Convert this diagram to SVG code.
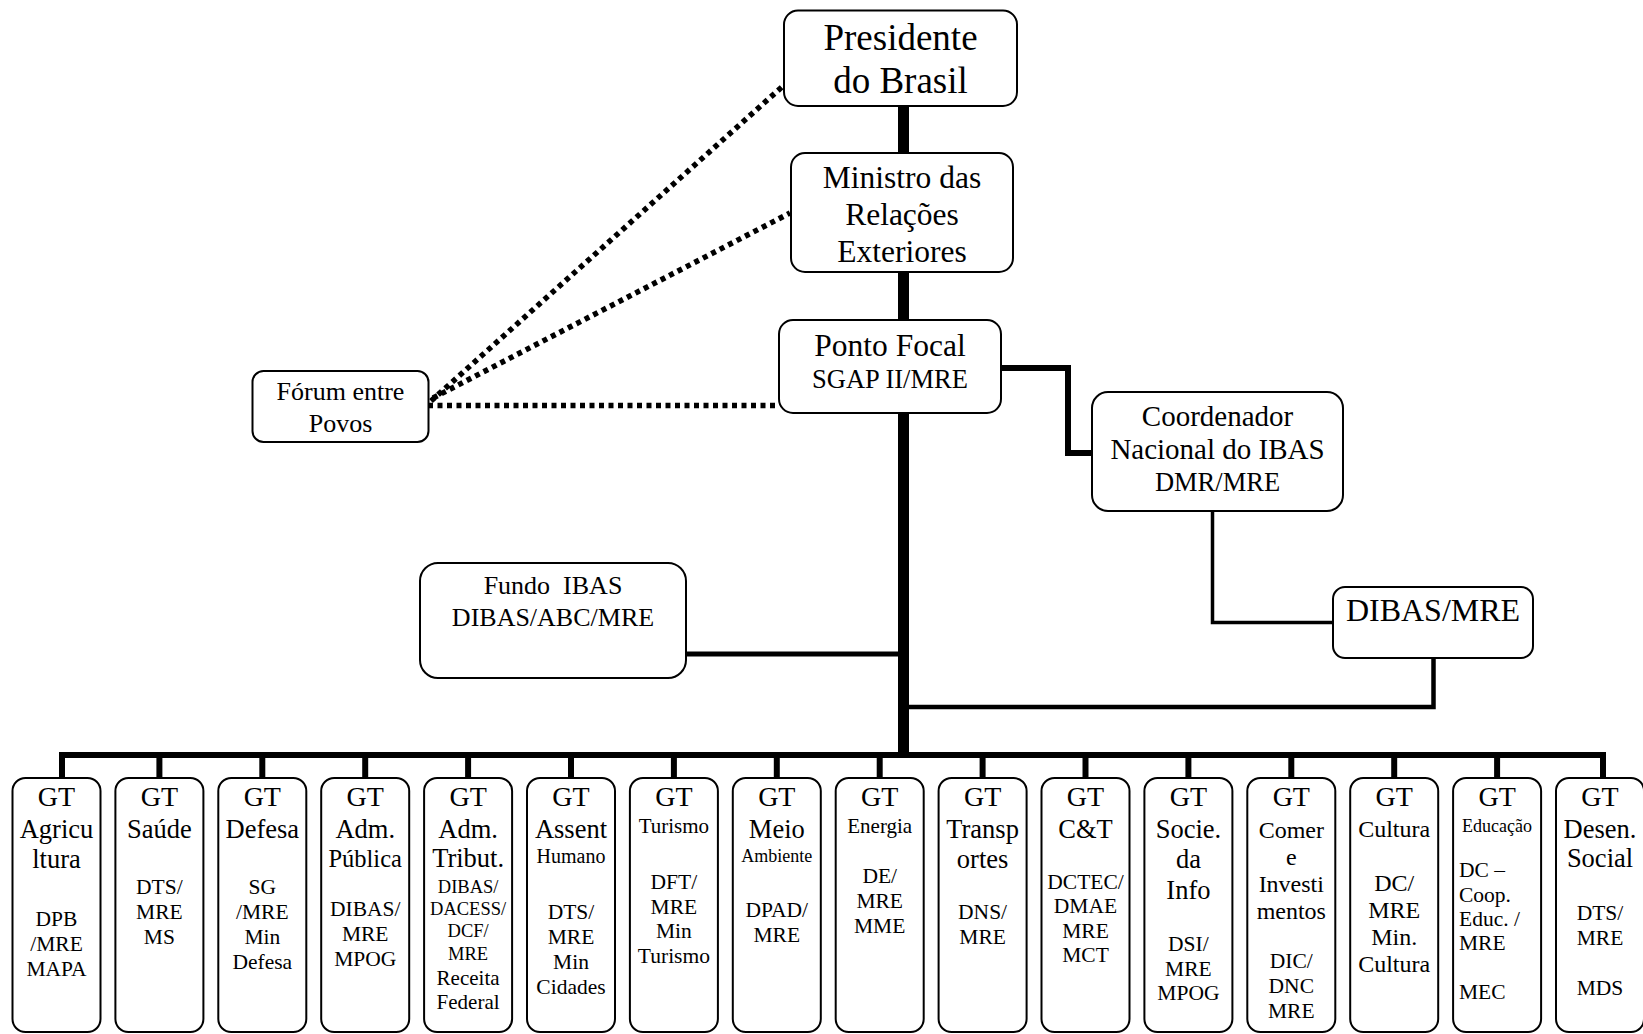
<svg xmlns="http://www.w3.org/2000/svg" width="1643" height="1034" viewBox="0 0 1643 1034">
<style>
text{font-family:"Liberation Serif","Times New Roman",serif;fill:#000;text-anchor:middle}
.box{fill:#fff;stroke:#000;stroke-width:2}
.gt{font-size:28px}
.nm{font-size:26.5px}
.sm{font-size:21.5px}
.thick{stroke:#000;stroke-width:11;fill:none}
.med{stroke:#000;stroke-width:6;fill:none}
.thin{stroke:#000;stroke-width:3.5;fill:none}
.dot{stroke:#000;stroke-width:5.5;fill:none;stroke-dasharray:5 4.5}
</style>
<rect width="1643" height="1034" fill="#fff"/>
<g id="connectors">
<line class="thick" x1="903.5" y1="106" x2="903.5" y2="153"/>
<line class="thick" x1="903.5" y1="272" x2="903.5" y2="320"/>
<line class="thick" x1="903.5" y1="413" x2="903.5" y2="758"/>
<line class="med" x1="59" y1="755" x2="1606" y2="755"/>
<g class="med">
<line x1="62" y1="755" x2="62" y2="779"/>
<line x1="159.4" y1="755" x2="159.4" y2="779"/>
<line x1="262.3" y1="755" x2="262.3" y2="779"/>
<line x1="365.2" y1="755" x2="365.2" y2="779"/>
<line x1="468.1" y1="755" x2="468.1" y2="779"/>
<line x1="571" y1="755" x2="571" y2="779"/>
<line x1="673.9" y1="755" x2="673.9" y2="779"/>
<line x1="776.8" y1="755" x2="776.8" y2="779"/>
<line x1="879.7" y1="755" x2="879.7" y2="779"/>
<line x1="982.6" y1="755" x2="982.6" y2="779"/>
<line x1="1085.5" y1="755" x2="1085.5" y2="779"/>
<line x1="1188.4" y1="755" x2="1188.4" y2="779"/>
<line x1="1291.3" y1="755" x2="1291.3" y2="779"/>
<line x1="1394.2" y1="755" x2="1394.2" y2="779"/>
<line x1="1497.1" y1="755" x2="1497.1" y2="779"/>
<line x1="1603" y1="755" x2="1603" y2="779"/>
</g>
<polyline class="med" points="1001,368 1068,368 1068,453 1092,453"/>
<polyline class="thin" points="1212.5,512 1212.5,622.5 1333,622.5"/>
<polyline style="stroke:#000;stroke-width:4.5;fill:none" points="1433.5,658 1433.5,707 903,707"/>
<line style="stroke:#000;stroke-width:5" x1="686" y1="654" x2="903" y2="654"/>
<line class="dot" x1="431" y1="401" x2="783" y2="86"/>
<line class="dot" x1="433" y1="398" x2="790" y2="213"/>
<line class="dot" x1="428" y1="405.5" x2="779" y2="405.5"/>
</g>
<g id="presidente">
<rect class="box" x="784" y="10.5" width="233" height="95.5" rx="14"/>
<text x="900.5" y="50" style="font-size:37px">Presidente</text>
<text x="900.5" y="93" style="font-size:37px">do Brasil</text>
</g>
<g id="ministro">
<rect class="box" x="791" y="153" width="222" height="119" rx="14"/>
<text x="902" y="188" style="font-size:31.5px">Ministro das</text>
<text x="902" y="225" style="font-size:31.5px">Relações</text>
<text x="902" y="262" style="font-size:31.5px">Exteriores</text>
</g>
<g id="ponto-focal">
<rect class="box" x="779" y="320" width="222" height="93" rx="14"/>
<text x="890" y="356" style="font-size:31.5px">Ponto Focal</text>
<text x="890" y="388" style="font-size:26.5px">SGAP II/MRE</text>
</g>
<g id="forum">
<rect class="box" x="252.5" y="371" width="176" height="71" rx="11"/>
<text x="340.5" y="400" style="font-size:26px">Fórum entre</text>
<text x="340.5" y="432" style="font-size:26px">Povos</text>
</g>
<g id="coordenador">
<rect class="box" x="1092" y="392" width="251" height="119" rx="16"/>
<text x="1217.5" y="426" style="font-size:29px">Coordenador</text>
<text x="1217.5" y="459" style="font-size:29px">Nacional do IBAS</text>
<text x="1217.5" y="491" style="font-size:26.5px">DMR/MRE</text>
</g>
<g id="dibas-mre">
<rect class="box" x="1333" y="587" width="200" height="71" rx="12"/>
<text x="1433" y="621" style="font-size:32px">DIBAS/MRE</text>
</g>
<g id="fundo-ibas">
<rect class="box" x="420" y="563" width="266" height="115" rx="18"/>
<text x="553" y="594" style="font-size:26px" xml:space="preserve">Fundo  IBAS</text>
<text x="553" y="626" style="font-size:26px">DIBAS/ABC/MRE</text>
</g>
<g id="gt-agricultura">
<rect class="box" x="12.5" y="778" width="88" height="254" rx="13"/>
<text class="gt" x="56.5" y="806">GT</text>
<text class="nm" x="56.5" y="838">Agricu</text>
<text class="nm" x="56.5" y="868">ltura</text>
<text class="sm" x="56.5" y="926">DPB</text>
<text class="sm" x="56.5" y="951">/MRE</text>
<text class="sm" x="56.5" y="976">MAPA</text>
</g>
<g id="gt-saude">
<rect class="box" x="115.4" y="778" width="88" height="254" rx="13"/>
<text class="gt" x="159.4" y="806">GT</text>
<text class="nm" x="159.4" y="838">Saúde</text>
<text class="sm" x="159.4" y="894">DTS/</text>
<text class="sm" x="159.4" y="919">MRE</text>
<text class="sm" x="159.4" y="944">MS</text>
</g>
<g id="gt-defesa">
<rect class="box" x="218.3" y="778" width="88" height="254" rx="13"/>
<text class="gt" x="262.3" y="806">GT</text>
<text class="nm" x="262.3" y="838">Defesa</text>
<text class="sm" x="262.3" y="894">SG</text>
<text class="sm" x="262.3" y="919">/MRE</text>
<text class="sm" x="262.3" y="944">Min</text>
<text class="sm" x="262.3" y="969">Defesa</text>
</g>
<g id="gt-adm-publica">
<rect class="box" x="321.2" y="778" width="88" height="254" rx="13"/>
<text class="gt" x="365.2" y="806">GT</text>
<text class="nm" x="365.2" y="838">Adm.</text>
<text x="365.2" y="867" style="font-size:24.5px">Pública</text>
<text class="sm" x="365.2" y="916">DIBAS/</text>
<text class="sm" x="365.2" y="941">MRE</text>
<text class="sm" x="365.2" y="966">MPOG</text>
</g>
<g id="gt-adm-tribut">
<rect class="box" x="424.1" y="778" width="88" height="254" rx="13"/>
<text class="gt" x="468.1" y="806">GT</text>
<text class="nm" x="468.1" y="838">Adm.</text>
<text class="nm" x="468.1" y="867">Tribut.</text>
<text x="468.1" y="893" style="font-size:18.5px">DIBAS/</text>
<text x="468.1" y="914.5" style="font-size:18.5px">DACESS/</text>
<text x="468.1" y="937" style="font-size:18.5px">DCF/</text>
<text x="468.1" y="960" style="font-size:18.5px">MRE</text>
<text x="468.1" y="985" style="font-size:21px">Receita</text>
<text x="468.1" y="1009" style="font-size:21px">Federal</text>
</g>
<g id="gt-assent-humano">
<rect class="box" x="527" y="778" width="88" height="254" rx="13"/>
<text class="gt" x="571" y="806">GT</text>
<text class="nm" x="571" y="838">Assent</text>
<text x="571" y="863" style="font-size:20px">Humano</text>
<text class="sm" x="571" y="919">DTS/</text>
<text class="sm" x="571" y="944">MRE</text>
<text class="sm" x="571" y="969">Min</text>
<text class="sm" x="571" y="994">Cidades</text>
</g>
<g id="gt-turismo">
<rect class="box" x="629.9" y="778" width="88" height="254" rx="13"/>
<text class="gt" x="673.9" y="806">GT</text>
<text x="673.9" y="833" style="font-size:21px">Turismo</text>
<text class="sm" x="673.9" y="889">DFT/</text>
<text class="sm" x="673.9" y="913.5">MRE</text>
<text class="sm" x="673.9" y="938">Min</text>
<text class="sm" x="673.9" y="963">Turismo</text>
</g>
<g id="gt-meio-ambiente">
<rect class="box" x="732.8" y="778" width="88" height="254" rx="13"/>
<text class="gt" x="776.8" y="806">GT</text>
<text class="nm" x="776.8" y="838">Meio</text>
<text x="776.8" y="862" style="font-size:18px">Ambiente</text>
<text class="sm" x="776.8" y="917">DPAD/</text>
<text class="sm" x="776.8" y="942">MRE</text>
</g>
<g id="gt-energia">
<rect class="box" x="835.7" y="778" width="88" height="254" rx="13"/>
<text class="gt" x="879.7" y="806">GT</text>
<text x="879.7" y="833" style="font-size:21px">Energia</text>
<text class="sm" x="879.7" y="883">DE/</text>
<text class="sm" x="879.7" y="908">MRE</text>
<text class="sm" x="879.7" y="933">MME</text>
</g>
<g id="gt-transportes">
<rect class="box" x="938.6" y="778" width="88" height="254" rx="13"/>
<text class="gt" x="982.6" y="806">GT</text>
<text class="nm" x="982.6" y="838">Transp</text>
<text class="nm" x="982.6" y="868">ortes</text>
<text class="sm" x="982.6" y="919">DNS/</text>
<text class="sm" x="982.6" y="944">MRE</text>
</g>
<g id="gt-ct">
<rect class="box" x="1041.5" y="778" width="88" height="254" rx="13"/>
<text class="gt" x="1085.5" y="806">GT</text>
<text class="nm" x="1085.5" y="838">C&amp;T</text>
<text class="sm" x="1085.5" y="889">DCTEC/</text>
<text class="sm" x="1085.5" y="913">DMAE</text>
<text class="sm" x="1085.5" y="937.5">MRE</text>
<text class="sm" x="1085.5" y="962">MCT</text>
</g>
<g id="gt-sociedade-info">
<rect class="box" x="1144.4" y="778" width="88" height="254" rx="13"/>
<text class="gt" x="1188.4" y="806">GT</text>
<text class="nm" x="1188.4" y="838">Socie.</text>
<text class="nm" x="1188.4" y="868">da</text>
<text class="nm" x="1188.4" y="899">Info</text>
<text class="sm" x="1188.4" y="951">DSI/</text>
<text class="sm" x="1188.4" y="975.5">MRE</text>
<text class="sm" x="1188.4" y="1000">MPOG</text>
</g>
<g id="gt-comercio">
<rect class="box" x="1247.3" y="778" width="88" height="254" rx="13"/>
<text class="gt" x="1291.3" y="806">GT</text>
<text x="1291.3" y="838" style="font-size:24px">Comer</text>
<text x="1291.3" y="865" style="font-size:24px">e</text>
<text x="1291.3" y="892" style="font-size:24px">Investi</text>
<text x="1291.3" y="919" style="font-size:24px">mentos</text>
<text class="sm" x="1291.3" y="968">DIC/</text>
<text class="sm" x="1291.3" y="993">DNC</text>
<text class="sm" x="1291.3" y="1018">MRE</text>
</g>
<g id="gt-cultura">
<rect class="box" x="1350.2" y="778" width="88" height="254" rx="13"/>
<text class="gt" x="1394.2" y="806">GT</text>
<text x="1394.2" y="837" style="font-size:24px">Cultura</text>
<text x="1394.2" y="891" style="font-size:24px">DC/</text>
<text x="1394.2" y="918" style="font-size:24px">MRE</text>
<text x="1394.2" y="945" style="font-size:24px">Min.</text>
<text x="1394.2" y="972" style="font-size:24px">Cultura</text>
</g>
<g id="gt-educacao">
<rect class="box" x="1453.1" y="778" width="88" height="254" rx="13"/>
<text class="gt" x="1497.1" y="806">GT</text>
<text x="1497.1" y="832" style="font-size:18px">Educação</text>
<text class="sm" x="1459" y="877" style="text-anchor:start">DC –</text>
<text class="sm" x="1459" y="902" style="text-anchor:start">Coop.</text>
<text class="sm" x="1459" y="925.5" style="text-anchor:start">Educ. /</text>
<text class="sm" x="1459" y="950" style="text-anchor:start">MRE</text>
<text class="sm" x="1459" y="999" style="text-anchor:start">MEC</text>
</g>
<g id="gt-desenvolvimento-social">
<rect class="box" x="1556" y="778" width="88" height="254" rx="13"/>
<text class="gt" x="1600" y="806">GT</text>
<text class="nm" x="1600" y="838">Desen.</text>
<text class="nm" x="1600" y="867">Social</text>
<text class="sm" x="1600" y="920">DTS/</text>
<text class="sm" x="1600" y="944.5">MRE</text>
<text class="sm" x="1600" y="995">MDS</text>
</g>
</svg>
